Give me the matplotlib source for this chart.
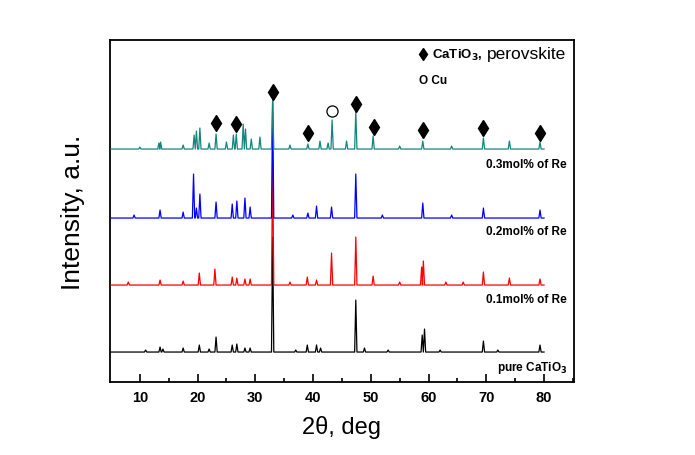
import numpy as np
import matplotlib
matplotlib.use('Agg')
import matplotlib.pyplot as plt

plt.rcParams['font.family'] = ['Liberation Sans', 'DejaVu Sans']

# peak positions (2theta, deg) and heights above each baseline (a.u.)
black_pos = [11.0, 13.5, 14.0, 17.5, 20.3, 22.0, 23.2, 26.0, 26.8, 28.2, 29.1, 33.0, 37.0, 39.0, 40.6, 41.3,
             47.4, 48.9, 53.0, 58.9, 59.3, 62.0, 69.5, 72.0, 79.3]
black_h = [2, 5, 3, 4, 7, 3, 15, 7, 8, 4, 4, 115, 2, 7, 7, 4, 52, 4, 2, 17, 23, 2, 11, 2, 7]

red_pos = [8.0, 13.5, 17.5, 20.3, 23.0, 26.0, 26.8, 28.2, 29.1, 33.0, 36.0, 39.0, 40.6, 43.2, 47.4, 50.4,
           55.0, 58.8, 59.1, 63.0, 66.0, 69.5, 74.0, 79.3]
red_h = [3, 5, 4, 12, 16, 8, 7, 6, 6, 125, 3, 8, 5, 32, 48, 9, 3, 18, 24, 3, 3, 13, 7, 6]

blue_pos = [9.0, 13.5, 17.5, 19.3, 19.8, 20.4, 23.2, 26.0, 26.8, 28.2, 29.1, 33.0, 36.5, 39.1, 40.6, 43.2,
            47.4, 52.0, 59.0, 64.0, 69.5, 79.3]
blue_h = [3, 8, 6, 44, 10, 24, 16, 14, 17, 20, 11, 120, 3, 5, 12, 11, 44, 3, 15, 3, 10, 8]

teal_pos = [10.0, 13.3, 13.6, 17.5, 19.4, 19.8, 20.4, 22.0, 23.2, 25.0, 26.2, 26.7, 27.9, 28.3, 29.3, 30.8,
            33.0, 36.0, 39.1, 41.2, 42.6, 43.3, 45.8, 47.4, 50.4, 55.0, 59.0, 64.0, 69.5, 74.0, 79.3]
teal_h = [2, 6, 7, 4, 14, 18, 21, 6, 15, 7, 14, 15, 25, 20, 10, 12, 50, 4, 5, 8, 6, 29, 8, 38, 13, 3, 8,
          3, 11, 8, 7]

offsets = [30, 97, 164, 233]
labels = [r'pure CaTiO$_\mathbf{3}$', '0.1mol% of Re', '0.2mol% of Re', '0.3mol% of Re']
colors = ['black', '#ff0000', '#0000ff', '#15857c']

# marker annotations on the top trace
dia_pos = [23.2, 26.6, 33.0, 39.1, 47.4, 50.5, 59.0, 69.5, 79.3]
dia_y = [259, 258, 290, 249, 278, 255, 252, 254, 249]
cu_pos = [43.3]
cu_y = [271]

x_start, x_end = 5.0, 80.0
w = 0.2


def trace(pos, h):
    xs = [x_start]
    ys = [0]
    for p, v in zip(pos, h):
        xs += [p - w, p, p + w]
        ys += [0, v, 0]
    xs.append(x_end)
    ys.append(0)
    return np.array(xs), np.array(ys)


fig = plt.figure(figsize=(6.95, 4.56), dpi=100)
ax = fig.add_axes([0.158, 0.160, 0.668, 0.750])

data = [(black_pos, black_h), (red_pos, red_h), (blue_pos, blue_h), (teal_pos, teal_h)]
for i, (pos, h) in enumerate(data):
    x, y = trace(pos, h)
    ax.plot(x, y + offsets[i], color=colors[i], lw=0.9, zorder=2 + i)

lab_y = [15, 83, 151, 218]
for i in range(4):
    ax.text(0.985, lab_y[i], labels[i], transform=ax.get_yaxis_transform(),
            ha='right', va='center', fontsize=8.5, fontweight='bold')

ax.plot(dia_pos, dia_y, 'd', ms=8, color='black', mec='black', zorder=10)
ax.plot(cu_pos, cu_y, 'o', ms=8, mfc='white', mec='black', mew=0.9, zorder=10)

# legend-like key in the upper right
ax.plot([0.675], [0.959], 'd', ms=6.5, color='black', transform=ax.transAxes, clip_on=False)
ax.text(0.693, 0.957, r'CaTiO$_\mathbf{3}$,', transform=ax.transAxes, fontsize=9.5,
        fontweight='bold', va='center', ha='left')
ax.text(0.812, 0.962, 'perovskite', transform=ax.transAxes, fontsize=12.5,
        va='center', ha='left')
ax.text(0.665, 0.883, 'O Cu', transform=ax.transAxes, fontsize=8.5,
        fontweight='bold', va='center', ha='left')

ax.set_xlim(4.8, 85.2)
ax.set_ylim(0, 342)
ax.set_xticks(range(10, 81, 10))
ax.set_xticks(range(15, 86, 10), minor=True)
ax.set_yticks([])
ax.tick_params(axis='x', which='major', direction='in', length=6, width=1.2,
               labelsize=10.5, pad=6)
ax.tick_params(axis='x', which='minor', direction='in', length=3, width=1.2)
for lbl in ax.get_xticklabels():
    lbl.set_fontweight('bold')
for s in ax.spines.values():
    s.set_linewidth(1.3)

ax.set_xlabel('2θ, deg', fontsize=17, labelpad=8)
ax.set_ylabel('Intensity, a.u.', fontsize=19, labelpad=18)

fig.savefig('out.png', dpi=100)
